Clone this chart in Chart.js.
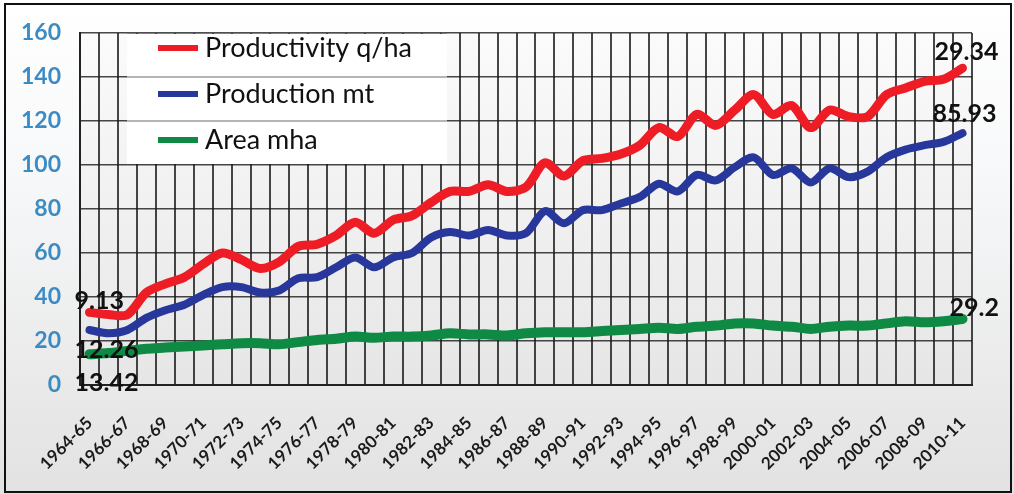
<!DOCTYPE html>
<html>
<head>
<meta charset="utf-8">
<script src="https://cdn.jsdelivr.net/npm/chart.js@4.4.0/dist/chart.umd.min.js"></script>
<style>
  html, body { margin: 0; padding: 0; background: #fff; }
  #wrap { width: 1014px; height: 494px; }
</style>
</head>
<body>
<div id="wrap"><canvas id="myChart" width="1014" height="494"></canvas></div>
<script>
'use strict';

let years = ['1964-65', '1965-66', '1966-67', '1967-68', '1968-69', '1969-70', '1970-71', '1971-72',
    '1972-73', '1973-74', '1974-75', '1975-76', '1976-77', '1977-78', '1978-79', '1979-80',
    '1980-81', '1981-82', '1982-83', '1983-84', '1984-85', '1985-86', '1986-87', '1987-88',
    '1988-89', '1989-90', '1990-91', '1991-92', '1992-93', '1993-94', '1994-95', '1995-96',
    '1996-97', '1997-98', '1998-99', '1999-00', '2000-01', '2001-02', '2002-03', '2003-04',
    '2004-05', '2005-06', '2006-07', '2007-08', '2008-09', '2009-10', '2010-11'];

let productivity = [33, 32, 32, 42, 46, 49, 55, 60, 57, 53, 56, 63, 64, 68, 74, 69,
    75, 77, 83, 88, 88, 91, 88, 90, 101, 95, 102, 103, 105, 109, 117, 113,
    123, 118, 125, 132, 123, 127, 117, 125, 122, 122, 132, 135, 138, 139, 144];

let production = [25, 23.5, 25, 30.5, 34, 36.5, 41, 44.5, 44.5, 42, 43, 48.5, 49, 53.5, 58, 53.5,
    58, 60, 67, 69.5, 68, 70.5, 68, 69, 79, 73.5, 79.5, 79.5, 82.5, 85.5, 91.5, 88,
    95.5, 93, 99, 103.5, 95.5, 98.5, 92, 98.5, 94.5, 97, 103.5, 107, 109, 110.5, 114.5];

let area = [14, 14.5, 15.5, 16.5, 17, 17.5, 18, 18.5, 19, 19, 18.5, 19.5, 20.5, 21, 22, 21.5,
    22, 22, 22.5, 23.5, 23, 23, 22.5, 23.5, 24, 24, 24, 24.5, 25, 25.5, 26, 25.5,
    26.5, 27, 28, 28, 27, 26.5, 25.5, 26.5, 27, 27, 28, 29, 28.5, 29, 30];

let seriesNames = ['Productivity q/ha', 'Production mt', 'Area mha'];
let startValues = ['9.13', '12.26', '13.42'];
let endValues = ['29.34', '85.93', '29.2'];
let yTicks = [0, 20, 40, 60, 80, 100, 120, 140, 160];

let gridColor = 'rgba(25, 25, 25, 0.8)';

// page background, plot shading and frame
let backgroundPlugin = {
    id: 'background',
    beforeDraw(chart) {
        let ctx = chart.ctx;
        let area = chart.chartArea;
        ctx.save();
        let g = ctx.createLinearGradient(0, 0, 0, chart.height);
        g.addColorStop(0, '#ffffff');
        g.addColorStop(0.35, '#f7f8f9');
        g.addColorStop(1, '#e2e2e2');
        ctx.fillStyle = g;
        ctx.fillRect(0, 0, chart.width, chart.height);
        let p = ctx.createLinearGradient(0, area.top, 0, area.bottom);
        p.addColorStop(0, '#fbfbfb');
        p.addColorStop(1, '#e6e6e6');
        ctx.fillStyle = p;
        ctx.fillRect(area.left, area.top, area.right - area.left, area.bottom - area.top);
        ctx.restore();
    },
    afterDraw(chart) {
        let ctx = chart.ctx;
        ctx.save();
        ctx.strokeStyle = '#111';
        ctx.lineWidth = 2;
        ctx.strokeRect(5, 4, 1006, 488);
        ctx.restore();
    }
};

// legend drawn inside the plot, top left
let legendBoxPlugin = {
    id: 'legendBox',
    beforeDatasetsDraw(chart) {
        let ctx = chart.ctx;
        let y = chart.scales.y;
        let x0 = 127, x1 = 447;
        let top = chart.chartArea.top;
        let bottom = 163;
        ctx.save();
        ctx.fillStyle = '#ffffff';
        ctx.fillRect(x0, top + 1, x1 - x0, bottom - top);
        ctx.strokeStyle = 'rgba(90, 90, 90, 0.6)';
        ctx.lineWidth = 1.5;
        [160, 140, 120].forEach(function (v) {
            let py = y.getPixelForValue(v);
            ctx.beginPath();
            ctx.moveTo(x0, py);
            ctx.lineTo(x1, py);
            ctx.stroke();
        });
        ctx.font = '27px Lato, "Open Sans", sans-serif';
        ctx.textBaseline = 'middle';
        ctx.fillStyle = '#111';
        chart.data.datasets.forEach(function (ds, i) {
            let ly = 48 + i * 46;
            ctx.strokeStyle = ds.borderColor;
            ctx.lineWidth = 6;
            ctx.beginPath();
            ctx.moveTo(158, ly);
            ctx.lineTo(198, ly);
            ctx.stroke();
            ctx.fillText(ds.label, 205, ly);
        });
        ctx.restore();
    }
};

// first and last values written at the ends of the lines
let endLabelsPlugin = {
    id: 'endLabels',
    afterDatasetsDraw(chart) {
        let ctx = chart.ctx;
        let startOffsets = [[-15, -11], [-15, 20], [-15, 29]];
        let endOffsets = [[-28, -16], [-30, -19], [-13, -11]];
        ctx.save();
        ctx.font = 'bold 25px Lato, "Open Sans", sans-serif';
        ctx.fillStyle = '#111';
        ctx.textBaseline = 'middle';
        ctx.textAlign = 'left';
        chart.data.datasets.forEach(function (ds, i) {
            let pts = chart.getDatasetMeta(i).data;
            let first = pts[0];
            let last = pts[pts.length - 1];
            ctx.fillText(startValues[i], first.x + startOffsets[i][0], first.y + startOffsets[i][1]);
            ctx.fillText(endValues[i], last.x + endOffsets[i][0], last.y + endOffsets[i][1]);
        });
        ctx.restore();
    }
};

function chartRender() {
    let ctx = document.getElementById('myChart').getContext('2d');
    let myChart = new Chart(ctx, {
        type: 'line',
        data: {
            labels: years,
            datasets: [{
                label: seriesNames[0],
                data: productivity,
                borderColor: '#ee1c25',
                borderWidth: 9
            }, {
                label: seriesNames[1],
                data: production,
                borderColor: '#27379b',
                borderWidth: 8
            }, {
                label: seriesNames[2],
                data: area,
                borderColor: '#0e8a44',
                borderWidth: 10
            }]
        },
        options: {
            responsive: false,
            animation: false,
            layout: {
                padding: { top: 33, right: 42, bottom: 0, left: 0 }
            },
            elements: {
                point: { radius: 0 },
                line: { tension: 0.3, borderCapStyle: 'round', borderJoinStyle: 'round' }
            },
            plugins: {
                legend: { display: false },
                tooltip: { enabled: false }
            },
            scales: {
                x: {
                    offset: true,
                    grid: {
                        offset: true,
                        color: gridColor,
                        lineWidth: 2,
                        drawTicks: false
                    },
                    border: { color: '#222', width: 2 },
                    ticks: {
                        autoSkip: false,
                        minRotation: 45,
                        maxRotation: 45,
                        padding: 28,
                        color: '#1a1a1a',
                        font: { family: 'Lato, "Open Sans", sans-serif', size: 17, weight: 'bold' },
                        callback: function (value, index) {
                            return index % 2 === 0 ? years[index] : '';
                        }
                    },
                    afterFit: function (scale) {
                        scale.height = 109;
                    }
                },
                y: {
                    min: 0,
                    max: 160,
                    grid: {
                        color: gridColor,
                        lineWidth: 1.5,
                        drawTicks: false
                    },
                    border: { color: '#222', width: 2 },
                    ticks: {
                        padding: 19,
                        color: '#3b8bc5',
                        font: { family: 'Lato, "Open Sans", sans-serif', size: 23, weight: 'bold' }
                    },
                    afterBuildTicks: function (scale) {
                        scale.ticks = yTicks.map(function (v) { return { value: v }; });
                    },
                    afterFit: function (scale) {
                        scale.width = 80;
                    }
                }
            }
        },
        plugins: [backgroundPlugin, legendBoxPlugin, endLabelsPlugin]
    });
}

chartRender();
</script>
</body>
</html>
